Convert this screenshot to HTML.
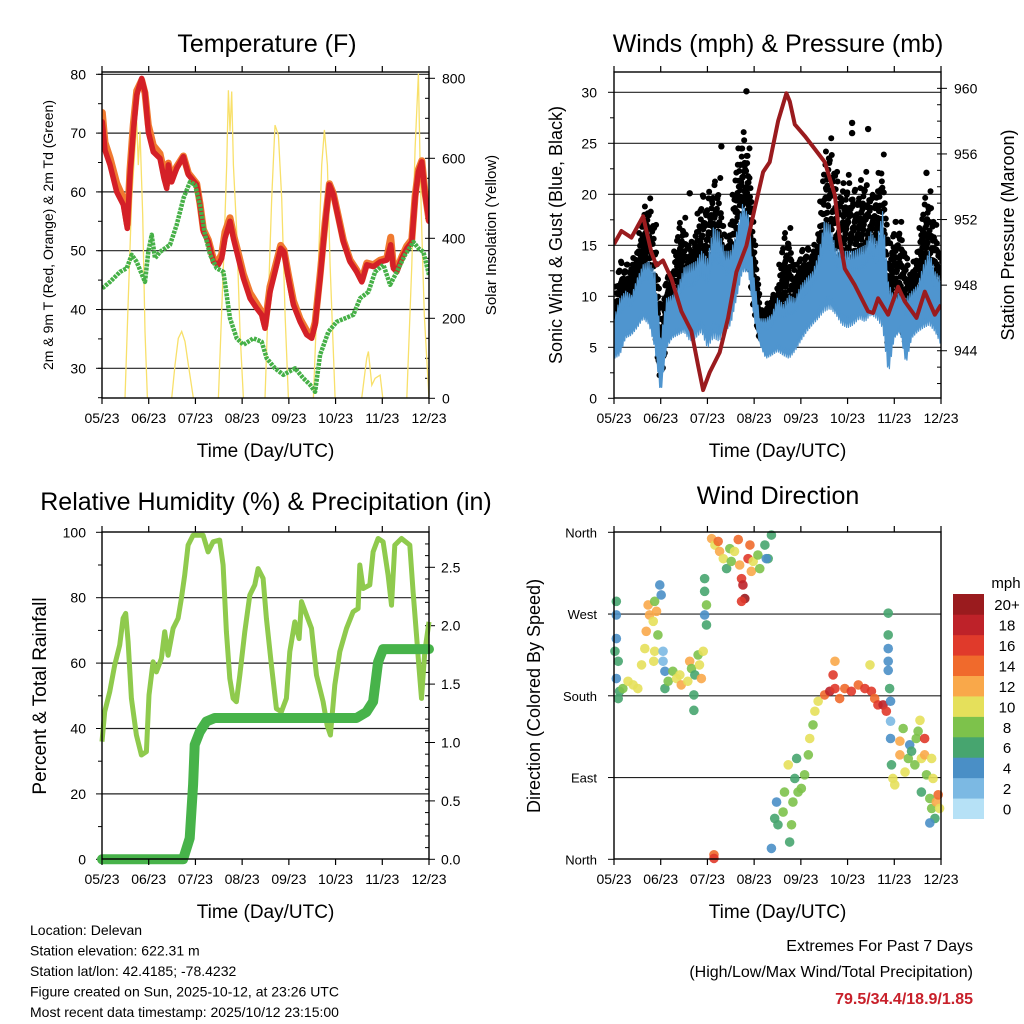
<!DOCTYPE html>
<html><head><meta charset="utf-8">
<style>
html,body{margin:0;padding:0;background:#fff;}
svg{display:block;font-family:"Liberation Sans",Arial,sans-serif;}
</style></head>
<body>
<svg id="chart" width="1024" height="1024" viewBox="0 0 1024 1024" xmlns="http://www.w3.org/2000/svg">
<rect x="0" y="0" width="1024" height="1024" fill="#fff"/>
<g id="layer"></g>
</svg>
<script>
// ---------- Temperature panel data ----------
const tempTimes = [0.007,0.064,0.171,0.314,0.457,0.542,0.600,0.671,0.742,0.849,0.921,0.992,1.099,1.242,1.327,1.385,1.420,1.492,1.599,1.742,1.849,2.027,2.098,2.170,2.277,2.384,2.491,2.562,2.634,2.741,2.812,2.919,3.026,3.169,3.312,3.419,3.490,3.597,3.704,3.826,3.897,3.990,4.097,4.240,4.382,4.490,4.561,4.668,4.775,4.868,4.954,5.061,5.168,5.311,5.453,5.561,5.668,5.810,5.953,6.096,6.181,6.238,6.310,6.417,6.524,6.631,6.702,6.774,6.845,6.917,7.0];
const temp2m = [71.9,67.1,64.6,60.0,57.8,53.8,62.9,70.2,76.5,79.3,77.0,70.2,66.8,65.7,62.3,60.6,64.6,61.7,64.0,66.0,62.9,61.2,57.8,53.2,51.5,48.1,47.6,48.7,52.1,55.0,52.1,48.7,45.3,41.9,40.2,39.1,36.8,43.0,46.4,50.4,49.8,45.3,40.8,37.9,35.7,35.1,37.4,45.3,54.4,61.2,59.5,55.5,51.5,48.1,46.4,44.7,47.6,47.3,48.1,48.4,51.0,47.0,46.4,48.7,50.4,51.5,58.9,63.4,65.1,59.5,55.0];
const temp9m = [73.5,68.4,65.8,61.5,58.9,54.5,63.8,71.5,77.2,79.0,76.8,71.4,67.9,66.5,63.4,61.3,64.9,62.3,64.3,66.1,63.2,61.4,58.0,53.6,51.8,48.6,48.3,49.4,53.2,55.6,52.8,49.5,46.0,42.8,41.0,39.6,37.3,43.9,47.1,50.9,50.1,45.9,41.5,38.4,36.4,35.6,37.8,45.9,54.8,61.4,59.7,55.8,51.8,48.4,46.7,45.0,47.9,47.6,48.4,48.7,52.3,47.5,46.8,49.0,50.8,51.9,59.3,63.8,65.3,59.8,55.2];
const dewTimes = [0.007,0.171,0.385,0.528,0.635,0.742,0.921,0.992,1.063,1.135,1.242,1.456,1.599,1.742,1.884,1.991,2.098,2.206,2.313,2.455,2.598,2.741,2.884,3.026,3.241,3.419,3.526,3.704,3.883,4.133,4.311,4.454,4.561,4.668,4.847,5.025,5.382,5.525,5.703,5.846,6.024,6.167,6.310,6.488,6.667,6.774,6.881,7.0];
const dew2m = [43.6,44.7,46.4,47.0,49.3,48.1,44.7,49.8,52.7,48.7,49.8,51.0,54.4,58.9,61.7,61.2,57.8,52.7,49.3,47.0,46.4,38.5,35.1,34.0,35.1,34.5,31.7,30.0,28.9,30.0,28.3,27.2,26.0,32.3,36.2,37.9,39.1,41.9,43.0,46.4,47.6,44.2,46.4,49.3,51.5,50.4,49.8,45.9];
const solarTimes = [0,0.492,0.564,0.635,0.707,0.742,0.778,0.814,0.871,0.921,0.971,1.492,1.563,1.634,1.706,1.777,1.849,1.956,2.491,2.598,2.670,2.705,2.741,2.777,2.812,2.884,2.955,3.026,3.490,3.562,3.633,3.704,3.776,3.847,3.919,3.990,4.525,4.632,4.704,4.761,4.825,4.882,4.989,5.560,5.667,5.703,5.775,5.846,5.953,6.010,6.524,6.631,6.702,6.774,6.810,6.845,6.900,7.0];
const solarVals = [0,0,250,500,625,692,583,667,458,167,0,0,83,150,167,142,83,0,0,333,583,770,667,767,583,417,167,0,0,250,500,683,658,500,208,0,0,333,583,671,583,333,0,0,100,117,33,50,58,0,0,333,625,812,583,417,208,0];
const tempTicks = [30,40,50,60,70,80];
const solarTicks = [0,200,400,600,800];
const dayLabels = ["05/23","06/23","07/23","08/23","09/23","10/23","11/23","12/23"];

// ---------- Wind panel data ----------
const windTimes = [0,0.125,0.25,0.375,0.5,0.625,0.75,0.875,1.0,1.125,1.25,1.375,1.5,1.625,1.75,1.875,2.0,2.125,2.25,2.375,2.5,2.625,2.75,2.875,3.0,3.125,3.25,3.375,3.5,3.625,3.75,3.875,4.0,4.125,4.25,4.375,4.5,4.625,4.75,4.875,5.0,5.125,5.25,5.375,5.5,5.625,5.75,5.875,6.0,6.125,6.25,6.375,6.5,6.625,6.75,6.875,7.0];
const windLow = [3.9,4.2,5.9,6.2,6.9,7.8,7.2,4.9,0.3,4.9,5.9,6.2,6.5,5.6,5.9,6.5,4.9,5.9,5.6,6.5,7.2,9.8,12.4,12.4,7.8,5.2,3.9,4.2,4.6,4.2,3.9,4.6,5.6,6.5,7.2,7.8,8.5,8.8,8.2,7.2,6.9,7.2,7.8,7.5,8.2,7.8,6.9,2.3,5.9,6.5,3.3,5.9,6.5,6.9,7.2,6.5,5.2];
const windHigh = [7.8,9.8,10.5,10.1,11.8,13.1,13.4,12.4,5.9,9.8,10.1,11.1,12.8,13.1,13.4,14.4,13.7,16.7,16.3,14.4,14.4,16.3,19.0,18.0,11.8,7.8,7.8,8.2,9.8,9.2,10.1,9.8,11.1,11.8,12.4,14.0,17.3,17.0,14.7,14.4,14.4,14.4,14.7,15.0,16.3,15.4,18.3,11.4,9.8,10.5,9.8,10.5,11.1,13.1,14.4,12.4,11.8];
const gustMax = [8.5,13.4,13.1,13.1,14.4,18.0,19.6,17.0,6.5,11.8,12.1,16.7,17.7,14.4,16.3,19.9,19.6,20.9,21.6,14.7,17.0,22.9,26.1,24.5,15.0,8.5,8.8,9.8,10.5,15.7,16.7,11.8,14.4,14.7,14.4,15.7,22.9,25.5,22.2,20.3,21.9,20.3,20.6,22.2,19.6,20.3,23.9,13.1,17.3,17.3,13.7,12.4,14.4,19.0,20.3,17.0,13.4];
const gustOutlierTimes = [2.835,2.299,1.621,5.097,5.097,5.44,6.689];
const gustOutlierVals = [30.1,24.7,20.1,27.0,26.0,26.4,22.1];
const pressTimes = [0,0.158,0.372,0.622,0.8,0.907,1.05,1.229,1.443,1.657,1.8,1.907,2.05,2.263,2.442,2.62,2.835,3.013,3.192,3.334,3.512,3.691,3.763,3.87,4.083,4.298,4.512,4.726,4.833,4.94,5.154,5.44,5.547,5.654,5.868,6.082,6.225,6.475,6.653,6.868,7.0];
const pressVals = [950.5,951.3,950.9,952.2,950.0,949.2,949.5,948.4,946.4,945.2,943.1,941.6,942.7,943.9,946.0,948.8,950.4,952.7,954.9,955.5,958.0,959.7,959.2,957.8,957.1,956.3,955.5,953.5,950.8,949.0,948.0,946.4,946.3,947.2,946.2,947.9,947.0,946.0,947.6,946.2,946.8];
const windTicks = [0,5,10,15,20,25,30];
const pressTicks = [944,948,952,956,960];

// ---------- RH / precip data ----------
const rhTimes = [0.001,0.058,0.165,0.272,0.379,0.451,0.508,0.558,0.629,0.736,0.843,0.95,1.007,1.093,1.164,1.272,1.343,1.414,1.522,1.629,1.7,1.771,1.843,1.95,2.164,2.271,2.378,2.52,2.592,2.663,2.735,2.806,2.877,2.949,3.056,3.163,3.27,3.342,3.449,3.52,3.627,3.734,3.841,3.948,4.02,4.127,4.22,4.27,4.377,4.484,4.591,4.734,4.819,4.89,4.983,5.09,5.233,5.376,5.483,5.519,5.59,5.733,5.804,5.911,6.018,6.125,6.197,6.268,6.411,6.589,6.66,6.732,6.782,6.839,6.91,7.0];
const rhVals = [36.0,45.1,51.2,59.4,65.5,73.7,75.2,66.5,49.2,38.0,31.9,32.9,50.2,60.4,57.3,61.4,69.6,62.4,70.6,73.7,79.8,86.9,96.1,99.1,99.1,94.0,97.1,97.6,90.0,69.6,55.3,49.2,48.2,56.3,69.6,80.8,83.9,88.9,85.9,73.7,59.4,46.1,45.1,49.2,63.5,72.6,67.5,78.8,74.7,70.6,56.3,48.2,41.0,38.0,53.3,63.5,70.6,75.7,76.7,90.0,82.8,83.9,94.0,98.1,97.1,86.9,77.7,96.1,98.1,96.1,81.8,68.6,59.4,49.2,63.5,72.6];
const rainTimes = [0,1.736,1.878,1.95,1.985,2.092,2.235,2.413,5.447,5.661,5.804,5.876,5.911,6.018,7.0];
const rainVals = [0,0,0.18,0.64,0.98,1.09,1.18,1.21,1.21,1.26,1.35,1.58,1.69,1.80,1.80];
const rhTicks = [0,20,40,60,80,100];
const rainTicks = ["0.0","0.5","1.0","1.5","2.0","2.5"];

// ---------- Wind direction data ----------
const dirTimes = [0.05,0.05,0.05,0.02,0.09,0.05,0.12,0.09,0.19,0.30,0.41,0.51,0.59,0.66,0.69,0.76,0.73,0.84,0.87,0.91,0.98,1.01,0.94,0.87,0.85,1.05,1.05,1.09,1.09,1.16,1.26,1.34,1.41,1.44,1.58,1.62,1.66,1.73,1.80,1.83,1.87,1.91,1.71,1.71,
 1.94,1.94,1.98,1.94,1.98,2.09,2.16,2.23,2.26,2.34,2.41,2.48,2.51,2.58,2.66,2.69,2.73,2.76,2.80,2.73,2.87,2.91,2.94,2.98,3.08,3.12,3.23,3.30,3.26,3.37,
 2.14,2.14,
 3.37,3.44,3.48,3.51,3.62,3.65,3.73,3.76,3.80,3.83,3.87,3.91,3.94,4.01,4.08,4.16,4.19,4.26,4.30,4.37,4.51,4.62,4.73,4.69,4.83,4.94,5.08,5.23,5.37,5.51,5.58,5.65,5.76,5.83,5.48,4.73,
 5.87,5.87,5.87,5.87,5.87,5.90,5.92,5.92,5.92,
 5.94,5.97,6.01,6.12,6.12,6.19,6.23,6.30,6.33,6.37,6.44,6.47,6.51,6.58,6.65,6.65,6.69,6.80,6.83,6.76,6.80,6.90,6.94,6.97,6.87,6.76,6.58,6.55];
const dirVals = [284,269,243,229,218,199,185,177,188,196,192,188,214,232,251,269,280,262,284,273,302,291,247,229,218,229,218,207,188,196,207,199,203,192,196,218,210,203,225,214,199,229,181,164,
 309,295,280,269,258,353,346,350,339,331,320,342,328,339,352,324,309,302,287,284,331,346,317,328,335,320,346,331,331,357,
 5,1,
 12,45,63,38,52,74,104,19,38,63,89,111,74,78,93,115,133,148,163,174,181,185,188,203,177,188,185,192,188,185,177,170,170,163,214,218,
 271,247,232,218,208,188,174,152,133,
 104,89,82,130,115,144,96,111,126,119,104,133,141,111,133,115,93,111,89,67,56,63,71,56,45,40,74,153];
const dirSpeeds = [6,4,4,6,6,4,6,6,8,10,10,10,10,10,12,12,12,10,8,12,4,4,8,10,10,2,2,4,6,8,8,10,10,12,10,12,8,6,8,10,12,10,6,6,
 6,6,8,4,6,12,10,14,12,10,6,8,8,10,14,12,16,18,20,16,16,14,12,10,8,8,6,6,4,6,
 14,16,
 4,6,4,6,8,8,10,6,8,8,6,6,8,8,8,8,10,8,10,10,14,18,16,16,14,14,16,14,16,16,14,16,18,16,10,12,
 6,6,4,4,4,6,4,2,4,
 6,10,10,12,12,8,10,8,4,6,8,8,8,10,16,12,8,10,10,8,8,12,14,10,6,4,6,10];
const dirTickLabels = ["North","East","South","West","North"];
const speedLabels = ["0","2","4","6","8","10","12","14","16","18","20+"];
const speedColors = ["#b6e1f6","#7cb9e3","#4a8fc6","#47a56f","#7dc24b","#e5e05b","#f9a84a","#f06a2c","#e03a2b","#be2229","#9a1b1e"];

// ---------- drawing ----------
const NS = "http://www.w3.org/2000/svg";
const layer = document.getElementById("layer");
function el(tag, attrs, parent) {
  const e = document.createElementNS(NS, tag);
  for (const k in attrs) e.setAttribute(k, attrs[k]);
  (parent || layer).appendChild(e);
  return e;
}
function txt(s, x, y, size, anchor, parent, extra) {
  const t = el("text", Object.assign({x: x, y: y, "font-size": size, "text-anchor": anchor || "start", fill: "#000"}, extra || {}), parent);
  t.textContent = s;
  return t;
}
function rtxt(s, cx, cy, size, parent) {
  return txt(s, 0, 0, size, "middle", parent, {transform: "translate(" + cx + "," + cy + ") rotate(-90)"});
}
function panel(x0, x1, y0, y1) {
  return {x0: x0, x1: x1, y0: y0, y1: y1, xs: function (t) { return x0 + t * (x1 - x0) / 7; }};
}
function pathFrom(ts, vs, xs, ys) {
  let d = "";
  for (let i = 0; i < ts.length; i++) d += (i ? "L" : "M") + xs(ts[i]).toFixed(1) + "," + ys(vs[i]).toFixed(1);
  return d;
}
function timeAxis(P, g) {
  for (let i = 0; i < dayLabels.length; i++) {
    const x = P.xs(i);
    const tb = el("line", {x1: x, x2: x, y1: P.y1, y2: P.y1 + 6, stroke: "#000", "stroke-width": 1.2}, g);
    
    
    el("line", {x1: x, x2: x, y1: P.y0, y2: P.y0 - 6, stroke: "#000", "stroke-width": 1.2}, g);
    const l = txt(dayLabels[i], x, P.y1 + 25, 14, "middle", g);
    
    
  }
  const tt = txt("Time (Day/UTC)", (P.x0 + P.x1) / 2, P.y1 + 59, 19, "middle", g);
  
  
}
function frame(P, g) {
  const f = el("rect", {x: P.x0, y: P.y0, width: P.x1 - P.x0, height: P.y1 - P.y0, fill: "none", stroke: "#000", "stroke-width": 1.4}, g);
  
  
}
function grid(P, y, g) {
  const l = el("line", {x1: P.x0, x2: P.x1, y1: y, y2: y, stroke: "#222", "stroke-width": 1.2}, g);
  
  
}

// ===== Panel 1: Temperature =====
(function () {
  const P = panel(102, 429, 72, 398);
  const yT = function (v) { return 368.3 - (v - 30) * 5.88; };
  const yS = function (s) { return 398.3 - s * 0.4; };
  const g = el("g", {});
  
  
  const ti = txt("Temperature (F)", 267, 52, 25, "middle", g);
  
  
  tempTicks.forEach(function (v) {
    grid(P, yT(v), g);
    el("line", {x1: P.x0 - 6, x2: P.x0, y1: yT(v), y2: yT(v), stroke: "#000"}, g);
    const l = txt(String(v), 86, yT(v) + 5, 14, "end", g);
    
    
  });
  for (let v = 25; v <= 80; v += 5) el("line", {x1: P.x0 - 4, x2: P.x0, y1: yT(v), y2: yT(v), stroke: "#000"}, g);
  solarTicks.forEach(function (s) {
    el("line", {x1: P.x1, x2: P.x1 + 6, y1: yS(s), y2: yS(s), stroke: "#000"}, g);
    const l = txt(String(s), 442, yS(s) + 5, 14, "start", g);
    
    
  });
  for (let s = 50; s <= 800; s += 50) el("line", {x1: P.x1 - 4, x2: P.x1, y1: yS(s), y2: yS(s), stroke: "#000"}, g);
  const a = rtxt("2m & 9m T (Red, Orange) & 2m Td (Green)", 53, 235, 14, g);
  
  
  const b = rtxt("Solar Insolation (Yellow)", 496, 235, 15, g);
  
  
  const cp = el("clipPath", {id: "c1"}, g);
  el("rect", {x: P.x0, y: P.y0, width: P.x1 - P.x0, height: P.y1 - P.y0}, cp);
  const pg = el("g", {"clip-path": "url(#c1)"}, g);
  const sol = el("path", {d: pathFrom(solarTimes, solarVals, P.xs, yS), fill: "none", stroke: "#f8e06a", "stroke-width": 1.3}, pg);
  
  
  const o = el("path", {d: pathFrom(tempTimes, temp9m, P.xs, yT), fill: "none", stroke: "#f07a30", "stroke-width": 7, "stroke-linejoin": "round", "stroke-linecap": "round"}, pg);
  
  
  const r = el("path", {d: pathFrom(tempTimes, temp2m, P.xs, yT), fill: "none", stroke: "#d42027", "stroke-width": 5.5, "stroke-linejoin": "round", "stroke-linecap": "round"}, pg);
  
  
  const d = el("path", {d: pathFrom(dewTimes, dew2m, P.xs, yT), fill: "none", stroke: "#46b047", "stroke-width": 4.5, "stroke-dasharray": "3 1", "stroke-linejoin": "round"}, pg);
  
  
  frame(P, g);
  timeAxis(P, g);
})();

// ===== Panel 2: Winds & Pressure =====
(function () {
  const P = panel(614, 941, 72, 398);
  const yW = function (w) { return 398.3 - w * 10.2; };
  const yP = function (p) { return 398.3 - (p - 941.1) * 16.4; };
  const g = el("g", {});
  
  
  const ti = txt("Winds (mph) & Pressure (mb)", 778, 52, 25, "middle", g);
  
  
  windTicks.forEach(function (v) {
    if (v > 0) grid(P, yW(v), g);
    el("line", {x1: P.x0 - 6, x2: P.x0, y1: yW(v), y2: yW(v), stroke: "#000"}, g);
    const l = txt(String(v), 597, yW(v) + 5, 14, "end", g);
    
    
  });
  for (let v = 2.5; v <= 32; v += 5) el("line", {x1: P.x0 - 4, x2: P.x0, y1: yW(v), y2: yW(v), stroke: "#000"}, g);
  pressTicks.forEach(function (p) {
    el("line", {x1: P.x1, x2: P.x1 + 6, y1: yP(p), y2: yP(p), stroke: "#000"}, g);
    const l = txt(String(p), 954, yP(p) + 5, 14, "start", g);
    
    
  });
  for (let p = 942; p <= 960; p += 1) el("line", {x1: P.x1 - 4, x2: P.x1, y1: yP(p), y2: yP(p), stroke: "#000"}, g);
  const a = rtxt("Sonic Wind & Gust (Blue, Black)", 562, 235, 18, g);
  
  
  const b = rtxt("Station Pressure (Maroon)", 1014, 235, 18, g);
  
  
  const cp = el("clipPath", {id: "c2"}, g);
  el("rect", {x: P.x0, y: P.y0, width: P.x1 - P.x0, height: P.y1 - P.y0}, cp);
  const pg = el("g", {"clip-path": "url(#c2)"}, g);
  const N = windTimes.length;
  function lerp(arr, i, f) { return i < N - 1 ? arr[i] + f * (arr[i + 1] - arr[i]) : arr[i]; }
  // gust dots
  const dots = el("g", {fill: "#000"}, pg);
  
  
  for (let i = 0; i < N; i++) {
    const n = i < N - 1 ? 6 : 1;
    for (let k = 0; k < n; k++) {
      const f = k / 6;
      const tt = lerp(windTimes, i, f), hi = lerp(windHigh, i, f), gm = lerp(gustMax, i, f), lo = lerp(windLow, i, f);
      const base = lo + (hi - lo) * 0.35;
      const top = gm - ((k % 3) * 0.12) * (gm - base);
      for (let j = 0; j <= 7; j++) {
        const v = base + (top - base) * j / 7;
        el("circle", {cx: P.xs(tt) + ((j + k) % 2 ? 1.2 : -1.2), cy: yW(v), r: 3}, dots);
      }
    }
  }
  gustOutlierTimes.forEach(function (t, i) {
    const c = el("circle", {cx: P.xs(t), cy: yW(gustOutlierVals[i]), r: 3.2, fill: "#000"}, pg);
    
    
  });
  // wind band (spiky)
  let d = "";
  const tops = [], bots = [];
  for (let i = 0; i < N; i++) {
    const n = i < N - 1 ? 6 : 1;
    for (let k = 0; k < n; k++) {
      const f = k / 6;
      const hi = lerp(windHigh, i, f), lo = lerp(windLow, i, f);
      const x = P.xs(lerp(windTimes, i, f));
      tops.push([x, yW(k % 2 ? hi - (hi - lo) * 0.3 : hi)]);
      bots.push([x, yW(k % 2 ? lo : lo + (hi - lo) * 0.15)]);
    }
  }
  tops.forEach(function (p, i) { d += (i ? "L" : "M") + p[0].toFixed(1) + "," + p[1].toFixed(1); });
  for (let i = bots.length - 1; i >= 0; i--) d += "L" + bots[i][0].toFixed(1) + "," + bots[i][1].toFixed(1);
  const band = el("path", {d: d + "Z", fill: "#4f95cf", stroke: "#4f95cf", "stroke-width": 1.2, "stroke-linejoin": "round"}, pg);
  
  
  const pr = el("path", {d: pathFrom(pressTimes, pressVals, P.xs, yP), fill: "none", stroke: "#9a1b1e", "stroke-width": 4, "stroke-linejoin": "round"}, pg);
  
  
  frame(P, g);
  timeAxis(P, g);
})();

// ===== Panel 3: RH & Precip =====
(function () {
  const P = panel(102, 429, 532, 859);
  const yR = function (r) { return 859.3 - r * 3.27; };
  const yI = function (v) { return 859.3 - v * 116.8; };
  const g = el("g", {});
  
  
  const ti = txt("Relative Humidity (%) & Precipitation (in)", 266, 510, 25, "middle", g);
  
  
  rhTicks.forEach(function (v) {
    if (v > 0 && v < 100) grid(P, yR(v), g);
    el("line", {x1: P.x0 - 6, x2: P.x0, y1: yR(v), y2: yR(v), stroke: "#000"}, g);
    const l = txt(String(v), 86, yR(v) + 5, 14, "end", g);
    
    
  });
  for (let v = 10; v <= 100; v += 20) el("line", {x1: P.x0 - 4, x2: P.x0, y1: yR(v), y2: yR(v), stroke: "#000"}, g);
  rainTicks.forEach(function (s) {
    const v = parseFloat(s);
    el("line", {x1: P.x1, x2: P.x1 + 6, y1: yI(v), y2: yI(v), stroke: "#000"}, g);
    const l = txt(s, 441, yI(v) + 5, 14, "start", g);
    
    
  });
  for (let v = 0.1; v <= 2.8; v += 0.1) el("line", {x1: P.x1 - 4, x2: P.x1, y1: yI(v), y2: yI(v), stroke: "#000"}, g);
  const a = rtxt("Percent & Total Rainfall", 46, 696, 19, g);
  
  
  const cp = el("clipPath", {id: "c3"}, g);
  el("rect", {x: P.x0 - 6, y: P.y0, width: P.x1 - P.x0 + 12, height: P.y1 - P.y0 + 6}, cp);
  const pg = el("g", {"clip-path": "url(#c3)"}, g);
  const rh = el("path", {d: pathFrom(rhTimes, rhVals, P.xs, yR), fill: "none", stroke: "#8fca4d", "stroke-width": 5, "stroke-linejoin": "round"}, pg);
  
  
  const rn = el("path", {d: pathFrom(rainTimes, rainVals, P.xs, yI), fill: "none", stroke: "#47b34a", "stroke-width": 10, "stroke-linejoin": "round", "stroke-linecap": "round"}, pg);
  
  
  frame(P, g);
  timeAxis(P, g);
})();

// ===== Panel 4: Wind direction =====
(function () {
  const P = panel(614, 941, 532, 859);
  const yD = function (d) { return 859.3 - d * 327 / 360; };
  const g = el("g", {});
  
  
  const ti = txt("Wind Direction", 778, 504, 25, "middle", g);
  
  
  dirTickLabels.forEach(function (s, i) {
    const y = yD(i * 90);
    if (i > 0 && i < 4) grid(P, y, g);
    el("line", {x1: P.x0 - 6, x2: P.x0, y1: y, y2: y, stroke: "#000"}, g);
    const l = txt(s, 597, y + 5, 13, "end", g);
    
    
  });
  const a = rtxt("Direction (Colored By Speed)", 540, 696, 18, g);
  
  
  const pts = el("g", {"fill-opacity": 0.9}, g);
  
  
  for (let i = 0; i < dirTimes.length; i++) {
    const idx = Math.min(10, Math.floor(dirSpeeds[i] / 2));
    const c = el("circle", {cx: P.xs(dirTimes[i]), cy: yD(dirVals[i]), r: 4.8, fill: speedColors[idx]}, pts);
    
    
  }
  frame(P, g);
  timeAxis(P, g);
  const cb = el("g", {}, g);
  
  
  const mph = txt("mph", 1006, 588, 15, "middle", cb);
  
  
  const bh = (818.7 - 594) / 11;
  for (let i = 0; i < 11; i++) {
    const y = 594 + (10 - i) * bh;
    const r = el("rect", {x: 953, y: y, width: 31, height: bh + 0.3, fill: speedColors[i]}, cb);
    
    
    const l = txt(speedLabels[i], 1007, y + bh / 2 + 6, 15, "middle", cb);
    
    
  }
})();

// ===== Footer text =====
(function () {
  const g = el("g", {});
  
  
  const lines = ["Location: Delevan", "Station elevation: 622.31 m", "Station lat/lon: 42.4185; -78.4232", "Figure created on Sun, 2025-10-12, at 23:26 UTC", "Most recent data timestamp: 2025/10/12 23:15:00"];
  lines.forEach(function (s, i) {
    const t = txt(s, 30, 935 + i * 20.5, 14, "start", g);
    
    
  });
  const e = el("g", {});
  
  
  const a = txt("Extremes For Past 7 Days", 973, 951, 16, "end", e);
  
  
  const b = txt("(High/Low/Max Wind/Total Precipitation)", 973, 977, 16, "end", e);
  
  
  const c = txt("79.5/34.4/18.9/1.85", 973, 1004, 16, "end", e, {fill: "#c8202a", "font-weight": "bold"});
  
  
})();
</script>
</body></html>
